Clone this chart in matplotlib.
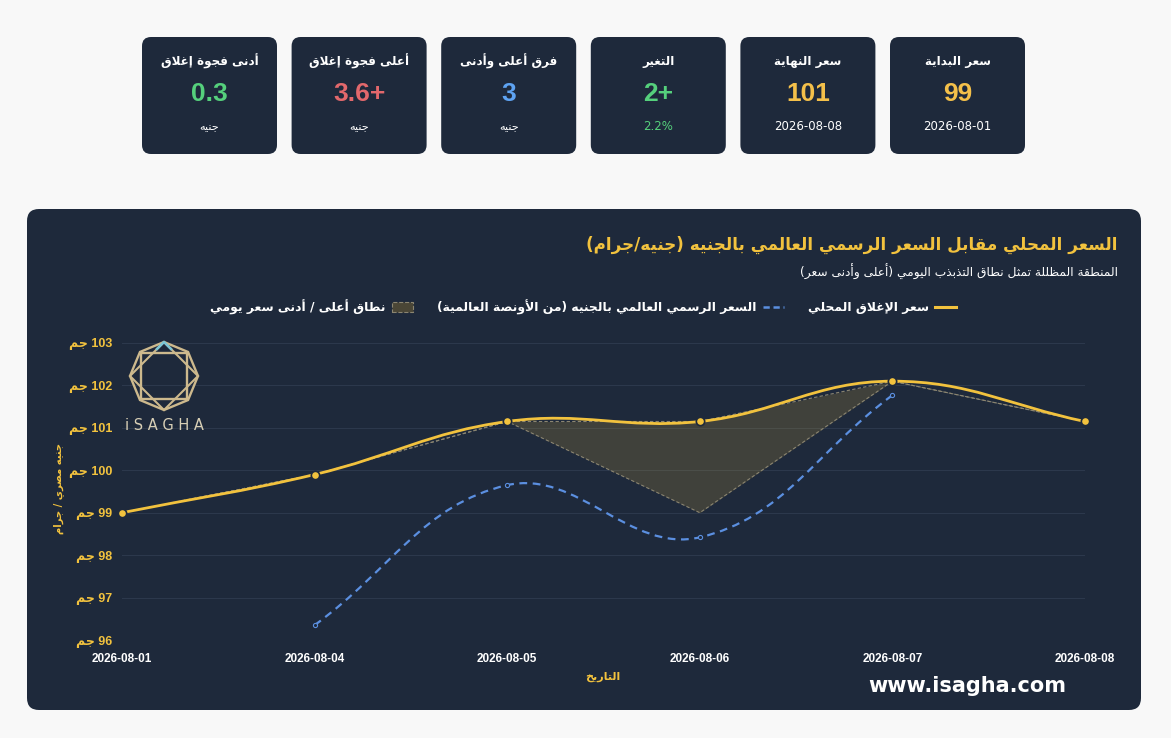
import re
import numpy as np
import matplotlib
matplotlib.use("Agg")
import matplotlib.pyplot as plt
from matplotlib.patches import FancyBboxPatch, Polygon, PathPatch, Rectangle
from matplotlib.path import Path
from matplotlib.lines import Line2D

# ---------------- data ----------------
dates = ['2026-08-01', '2026-08-04', '2026-08-05', '2026-08-06', '2026-08-07', '2026-08-08']
local_close = [99.0, 99.9, 101.15, 101.15, 102.1, 101.15]
world_price = [None, 96.35, 99.65, 98.42, 101.77, None]
day_high = [99.0, 99.9, 101.15, 101.15, 102.1, 101.15]
day_low = [99.0, 99.9, 101.15, 99.0, 102.1, 101.15]
y_ticks = [96, 97, 98, 99, 100, 101, 102, 103]

card_titles = ['سعر البداية', 'سعر النهاية', 'التغير', 'فرق أعلى وأدنى', 'أعلى فجوة إغلاق', 'أدنى فجوة إغلاق']
card_values = ['99', '101', '2+', '3', '3.6+', '0.3']
card_subs = ['2026-08-01', '2026-08-08', '2.2%', 'جنيه', 'جنيه', 'جنيه']
card_value_colors = ['#f4c04a', '#f4c04a', '#55d07c', '#5ea3f2', '#e2686c', '#55d07c']
card_sub_colors = ['#ffffff', '#ffffff', '#55d07c', '#ffffff', '#ffffff', '#ffffff']

title_text = 'السعر المحلي مقابل السعر الرسمي العالمي بالجنيه (جنيه/جرام)'
subtitle_text = 'المنطقة المظللة تمثل نطاق التذبذب اليومي (أعلى وأدنى سعر)'
legend_labels = ['سعر الإغلاق المحلي', 'السعر الرسمي العالمي بالجنيه (من الأونصة العالمية)', 'نطاق أعلى / أدنى سعر يومي']
y_label = 'جنيه مصري / جرام'
x_label = 'التاريخ'
unit = 'جم'

# ---------------- Arabic shaping (presentation forms) + simple RTL ----------------
_dual = {'ئ': 0xFE89, 'ب': 0xFE8F, 'ت': 0xFE95, 'ث': 0xFE99, 'ج': 0xFE9D, 'ح': 0xFEA1,
         'خ': 0xFEA5, 'س': 0xFEB1, 'ش': 0xFEB5, 'ص': 0xFEB9, 'ض': 0xFEBD, 'ط': 0xFEC1,
         'ظ': 0xFEC5, 'ع': 0xFEC9, 'غ': 0xFECD, 'ف': 0xFED1, 'ق': 0xFED5, 'ك': 0xFED9,
         'ل': 0xFEDD, 'م': 0xFEE1, 'ن': 0xFEE5, 'ه': 0xFEE9, 'ي': 0xFEF1}
_right = {'آ': 0xFE81, 'أ': 0xFE83, 'ؤ': 0xFE85, 'إ': 0xFE87, 'ا': 0xFE8D, 'ة': 0xFE93,
          'د': 0xFEA9, 'ذ': 0xFEAB, 'ر': 0xFEAD, 'ز': 0xFEAF, 'و': 0xFEED, 'ى': 0xFEEF}
_lamalef = {'آ': 0xFEF5, 'أ': 0xFEF7, 'إ': 0xFEF9, 'ا': 0xFEFB}
_mirror = {'(': ')', ')': '('}


def _shape(s):
    items = []
    i = 0
    while i < len(s):
        c = s[i]
        if c == 'ل' and i + 1 < len(s) and s[i + 1] in _lamalef:
            items.append(('LA', _lamalef[s[i + 1]]))
            i += 2
            continue
        if c in _dual:
            items.append(('D', _dual[c]))
        elif c in _right:
            items.append(('R', _right[c]))
        else:
            items.append(('N', c))
        i += 1
    out = []
    for k, (kind, base) in enumerate(items):
        if kind == 'N':
            out.append(base)
            continue
        prev_j = k > 0 and items[k - 1][0] == 'D'
        next_j = kind == 'D' and k + 1 < len(items) and items[k + 1][0] != 'N'
        if kind == 'D':
            off = 3 if (prev_j and next_j) else 1 if prev_j else 2 if next_j else 0
        else:
            off = 1 if prev_j else 0
        out.append(chr(base + off))
    return ''.join(out)


def ar(s):
    shaped = _shape(s)
    tokens = re.findall(r'[0-9A-Za-z][0-9A-Za-z.%\-]*|.', shaped)
    vis = []
    for t in reversed(tokens):
        if t[0].isascii() and t[0].isalnum():
            vis.append(t)
        else:
            vis.append(_mirror.get(t, t))
    return ''.join(vis)


# ---------------- figure ----------------
plt.rcParams['font.family'] = ['DejaVu Sans']
W, H = 1171, 738
fig = plt.figure(figsize=(W / 100, H / 100), dpi=100, facecolor='#f8f8f8')
T = fig.dpi_scale_trans


def X(px):
    return px / 100.0


def Y(py):
    return (H - py) / 100.0


CARD_BG = '#1e293b'
GOLD = '#f2c23e'
NUM_FONT = ['Liberation Sans', 'DejaVu Sans']

# cards
for i in range(len(card_titles)):
    left = 890 - i * 149.6
    fig.patches.append(FancyBboxPatch((X(left), Y(154)), X(135), 1.17,
                                      boxstyle='round,pad=0,rounding_size=0.09',
                                      transform=T, facecolor=CARD_BG, edgecolor='none', zorder=-2))
    cx = X(left + 67.5)
    fig.text(cx, Y(61), ar(card_titles[i]), transform=T, ha='center', va='center',
             color='white', fontsize=8.6, fontweight='bold')
    fig.text(cx, Y(94), card_values[i], transform=T, ha='center', va='center',
             color=card_value_colors[i], fontsize=19, fontweight='bold', family=NUM_FONT)
    sub = card_subs[i]
    if any('\u0600' <= ch <= '\u06ff' for ch in sub):
        sub = ar(sub)
        fs = 8.2
    else:
        fs = 8.5
    fig.text(cx, Y(127), sub, transform=T, ha='center', va='center',
             color=card_sub_colors[i], fontsize=fs)

# chart panel
fig.patches.append(FancyBboxPatch((X(27), Y(710)), X(1114), X(501),
                                  boxstyle='round,pad=0,rounding_size=0.12',
                                  transform=T, facecolor=CARD_BG, edgecolor='none', zorder=-2))

fig.text(X(1118), Y(245), ar(title_text), transform=T, ha='right', va='center',
         color=GOLD, fontsize=12.1, fontweight='bold')
fig.text(X(1118), Y(272), ar(subtitle_text), transform=T, ha='right', va='center',
         color='white', fontsize=8.8)

# axes
ax_l, ax_r, ax_t, ax_b = 122, 1085, 343, 640
ax = fig.add_axes([ax_l / W, (H - ax_b) / H, (ax_r - ax_l) / W, (ax_b - ax_t) / H])
ax.set_facecolor('none')
for sp in ax.spines.values():
    sp.set_visible(False)
xs = np.arange(len(dates))
ax.set_xlim(0, len(dates) - 1)
ax.set_ylim(y_ticks[0], y_ticks[-1])
ax.set_yticks(y_ticks)
ax.set_yticklabels([ar(unit) + ' ' + str(v) for v in y_ticks])
ax.set_xticks(xs)
ax.set_xticklabels(dates)
ax.tick_params(axis='y', length=0, pad=7, labelcolor=GOLD, labelsize=9)
ax.tick_params(axis='x', length=0, pad=9, labelcolor='white', labelsize=8.5)
for lab in ax.get_yticklabels() + ax.get_xticklabels():
    lab.set_fontweight('bold')
    lab.set_family(NUM_FONT)
ax.grid(axis='y', color='#2c384c', lw=0.8)
ax.grid(axis='x', visible=False)
ax.set_axisbelow(True)

sx = (ax_r - ax_l) / (len(dates) - 1)
sy = (ax_b - ax_t) / (y_ticks[-1] - y_ticks[0])


def spline_path(xv, yv, tension=0.4):
    p = np.column_stack([np.asarray(xv, float) * sx, np.asarray(yv, float) * sy])
    n = len(p)
    cpp, cpn = np.zeros_like(p), np.zeros_like(p)
    for i in range(n):
        a = p[max(i - 1, 0)]
        b = p[i]
        c = p[min(i + 1, n - 1)]
        d01 = np.hypot(*(b - a))
        d12 = np.hypot(*(c - b))
        tot = d01 + d12
        s01 = d01 / tot if tot else 0
        s12 = d12 / tot if tot else 0
        cpp[i] = b - tension * s01 * (c - a)
        cpn[i] = b + tension * s12 * (c - a)
    verts = [p[0]]
    codes = [Path.MOVETO]
    for i in range(n - 1):
        verts += [cpn[i], cpp[i + 1], p[i + 1]]
        codes += [Path.CURVE4] * 3
    verts = np.array(verts) / np.array([sx, sy])
    return Path(verts, codes)


# band
ax.fill_between(xs, day_low, day_high, color=GOLD, alpha=0.16, lw=0, zorder=2)
ax.plot(xs, day_high, color='#8b8571', lw=0.8, ls=(0, (3, 2)), zorder=2.1)
ax.plot(xs, day_low, color='#8b8571', lw=0.8, ls=(0, (3, 2)), zorder=2.1)

# world price
w_idx = [i for i, v in enumerate(world_price) if v is not None]
w_x = [xs[i] for i in w_idx]
w_y = [world_price[i] for i in w_idx]
ax.add_patch(PathPatch(spline_path(w_x, w_y), fill=False, edgecolor='#5b8fe0', lw=1.6,
                       ls=(0, (3.5, 2.5)), zorder=3))
ax.plot(w_x, w_y, ls='none', marker='o', ms=3, mfc='#1e293b', mec='#5b8fe0', mew=0.8, zorder=3.1)

# local close
ax.add_patch(PathPatch(spline_path(xs, local_close), fill=False, edgecolor=GOLD, lw=2.0,
                       zorder=4, capstyle='round'))
ax.plot(xs, local_close, ls='none', marker='o', ms=6, mfc=GOLD, mec='#1e293b', mew=1.2,
        zorder=5, clip_on=False)

# axis labels
fig.text(X(603), Y(677), ar(x_label), transform=T, ha='center', va='center',
         color=GOLD, fontsize=8, fontweight='bold')
fig.text(X(59), Y(489), ar(y_label), transform=T, ha='center', va='center',
         color=GOLD, fontsize=7.2, fontweight='bold', rotation=90)

# legend (RTL: handles on the right of text)
h_local = Line2D([], [], color=GOLD, lw=2.2)
h_world = Line2D([], [], color='#5b8fe0', lw=1.8, ls=(0, (2.5, 1.5)))
h_band = Rectangle((0, 0), 1, 1, facecolor='#4a4636', edgecolor='#8b8571', lw=0.8, ls='--')
leg = fig.legend([h_band, h_world, h_local], [ar(legend_labels[2]), ar(legend_labels[1]), ar(legend_labels[0])],
                 loc='center', bbox_to_anchor=(583 / W, (H - 307) / H), ncol=3, markerfirst=False,
                 frameon=False, handlelength=1.7, handleheight=0.9, handletextpad=0.5,
                 columnspacing=1.95, prop={'size': 8.9, 'weight': 'bold'}, labelcolor='white')

# logo
cx, cy, r = 164, 376, 34
ang_oct = np.deg2rad(90 + np.arange(8) * 45)
oct_pts = [(X(cx + r * np.cos(a)), Y(cy - r * np.sin(a))) for a in ang_oct]
logo_col = '#cdb98d'
fig.patches.append(Polygon(oct_pts, closed=True, fill=False, edgecolor=logo_col, lw=1.7, transform=T))
dia = [oct_pts[k] for k in (0, 2, 4, 6)]
fig.patches.append(Polygon(dia, closed=True, fill=False, edgecolor=logo_col, lw=1.5, transform=T))
s = 23
sq = [(X(cx - s), Y(cy - s)), (X(cx + s), Y(cy - s)), (X(cx + s), Y(cy + s)), (X(cx - s), Y(cy + s))]
fig.patches.append(Polygon(sq, closed=True, fill=False, edgecolor=logo_col, lw=1.7, transform=T))
fig.lines.append(Line2D([X(cx - 7), X(cx), X(cx + 7)], [Y(cy - r + 7), Y(cy - r), Y(cy - r + 7)],
                        color='#7cc6d6', lw=1.8, transform=T))
fig.text(X(164), Y(425), 'i S A G H A', transform=T, ha='center', va='center',
         color='#d8cfb6', fontsize=10.5)

# watermark
fig.text(X(967), Y(686), 'www.isagha.com', transform=T, ha='center', va='center',
         color='white', fontsize=15, fontweight='bold')

fig.savefig('out.png', dpi=100, facecolor=fig.get_facecolor())
